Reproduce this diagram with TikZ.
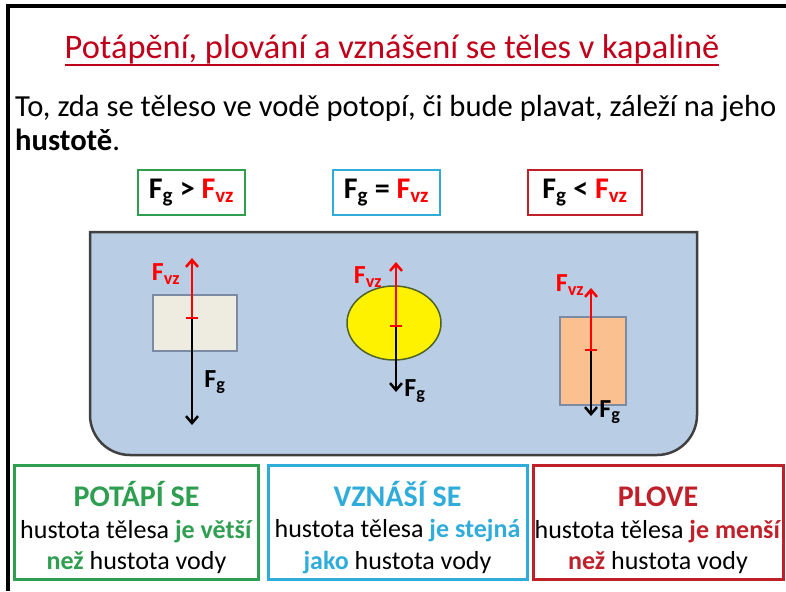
\documentclass[tikz,border=0pt]{standalone}
\usepackage{fontspec}
\setmainfont{Carlito}
\usetikzlibrary{arrows.meta,shapes.geometric}
\definecolor{nadpis}{HTML}{C0001A}
\definecolor{zelena}{HTML}{2E9E50}
\definecolor{modra}{HTML}{2FACDA}
\definecolor{cervena}{HTML}{C0202A}
\definecolor{voda}{HTML}{B9CDE5}
\definecolor{bezova}{HTML}{EEECE1}
\definecolor{oranzova}{HTML}{FAC090}
\definecolor{obrys}{HTML}{7A8BA3}
\definecolor{olivova}{HTML}{4F6228}
\tikzstyle{texto}=[inner sep=0pt]
\tikzstyle{rovnice}=[draw,line width=2.5pt,inner sep=0pt,minimum height=45pt,font=\fontsize{30}{32}\selectfont\bfseries]
\tikzstyle{vysledek}=[draw,line width=3pt,inner sep=0pt,minimum height=114pt]
\tikzstyle{popis}=[inner sep=0pt,align=center,font=\fontsize{26}{31.5}\selectfont]
\tikzstyle{teleso}=[draw=obrys,line width=1.5pt,inner sep=0pt]
\tikzstyle{fvz}=[red,line width=2.5pt,-{Straight Barb[length=7pt,width=12pt]}]
\tikzstyle{fg}=[black,line width=2.5pt,-{Straight Barb[length=7pt,width=12pt]}]
\tikzstyle{znacka}=[red,line width=2.5pt]
\tikzstyle{sila}=[inner sep=0pt,font=\fontsize{26}{28}\selectfont]
\newcommand{\Fg}{\textbf{F\textsubscript{g}}}
\newcommand{\Fvz}{\textcolor{red}{\textbf{F\textsubscript{vz}}}}

\begin{document}
\begin{tikzpicture}[x=1pt,y=-1pt]
    \useasboundingbox (0,0) rectangle (786,591);
    % ramecek snimku
    \draw [line width=4pt] (8,591) -- (8,6) -- (786,6);

    % nadpis a uvod
    \node [texto,anchor=base,text=nadpis,font=\fontsize{34.4}{36}\selectfont] (nadpis) at (392,59) {Potápění, plování a vznášení se těles v kapalině};
    \draw [nadpis,line width=2pt] ([yshift=-6pt]nadpis.base west) -- ([yshift=-6pt]nadpis.base east);
    \node [texto,anchor=base west,font=\fontsize{30.6}{32}\selectfont] (veta1) at (15,117) {To, zda se těleso ve vodě potopí, či bude plavat, záleží na jeho};
    \node [texto,anchor=base west,font=\fontsize{30.6}{32}\selectfont] (veta2) at (15,150) {\textbf{hustotě}.};

    % porovnani sil
    \node [rovnice,draw=zelena,minimum width=107pt] (r1) at (191.5,192.5) {\Fg{} > \Fvz};
    \node [rovnice,draw=modra,minimum width=107pt] (r2) at (386.5,192.5) {\Fg{} = \Fvz};
    \node [rovnice,draw=cervena,minimum width=114pt] (r3) at (585,192.5) {\Fg{} < \Fvz};

    % nadoba s vodou
    \draw [fill=voda,draw=black!75,line width=2.5pt] (90,232) -- (697,232) -- (697,415)
        arc [start angle=0,end angle=90,radius=40] -- (130,455)
        arc [start angle=90,end angle=180,radius=40] -- cycle;

    % telesa
    \node [teleso,fill=bezova,minimum width=84pt,minimum height=56pt] (t1) at (195,323) {};
    \node [draw=olivova,line width=1.5pt,fill=yellow,ellipse,minimum width=94pt,minimum height=74pt,inner sep=0pt] (t2) at (394,323) {};
    \node [teleso,fill=oranzova,minimum width=66pt,minimum height=88pt] (t3) at (593,361) {};

    % sily
    \coordinate (s1) at (192,318);
    \coordinate (s2) at (396,326);
    \coordinate (s3) at (591,350);
    \coordinate (h1) at (192,258);
    \coordinate (h2) at (396,262);
    \coordinate (h3) at (591,288);
    \coordinate (d1) at (192,425);
    \coordinate (d2) at (396,392);
    \coordinate (d3) at (591,416);
    \foreach \i in {1,2,3} {
        \draw [fg] (s\i) -- (d\i);
        \draw [fvz] (s\i) -- (h\i);
        \draw [znacka] ([xshift=-6pt]s\i) -- ([xshift=6pt]s\i);
    }
    \node [sila] (v1) at (166,274) {\Fvz};
    \node [sila] (v2) at (368,277) {\Fvz};
    \node [sila] (v3) at (570,285) {\Fvz};
    \node [sila] (g1) at (215,382) {\Fg};
    \node [sila] (g2) at (415,391) {\Fg};
    \node [sila] (g3) at (610,412) {\Fg};

    % zavery
    \node [vysledek,draw=zelena,minimum width=244pt] (z1) at (136.5,522.5) {};
    \node [vysledek,draw=modra,minimum width=259pt] (z2) at (397.5,522.5) {};
    \node [vysledek,draw=cervena,minimum width=250pt] (z3) at (658,522.5) {};
    \node [popis] (p1) at ([yshift=-5pt]z1.center) {\textcolor{zelena}{\textbf{\fontsize{30}{31.5}\selectfont POTÁPÍ SE}}\\hustota tělesa \textcolor{zelena}{\textbf{je větší}}\\\textcolor{zelena}{\textbf{než}} hustota vody};
    \node [popis] (p2) at ([yshift=-5pt]z2.center) {\textcolor{modra}{\textbf{\fontsize{30}{31.5}\selectfont VZNÁŠÍ SE}}\\hustota tělesa \textcolor{modra}{\textbf{je stejná}}\\\textcolor{modra}{\textbf{jako}} hustota vody};
    \node [popis] (p3) at ([yshift=-5pt]z3.center) {\textcolor{cervena}{\textbf{\fontsize{30}{31.5}\selectfont\vphantom{Á}PLOVE}}\\hustota tělesa \textcolor{cervena}{\textbf{je menší}}\\\textcolor{cervena}{\textbf{než}} hustota vody};
\end{tikzpicture}
\end{document}
